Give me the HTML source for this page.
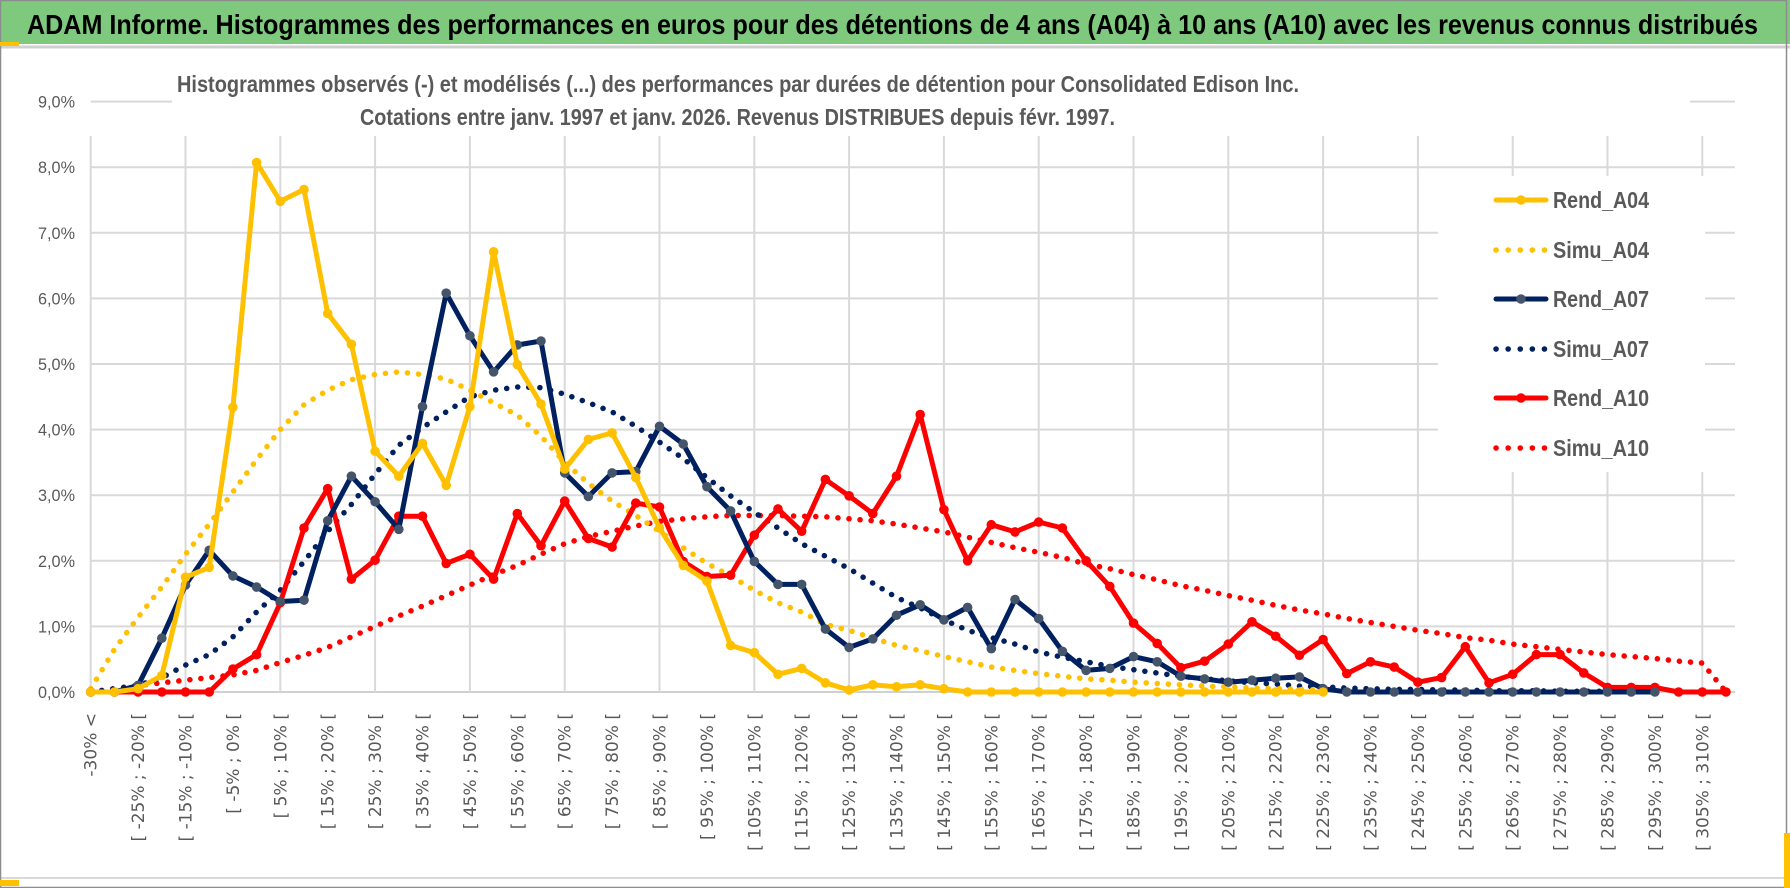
<!DOCTYPE html>
<html><head><meta charset="utf-8"><style>
html,body{margin:0;padding:0;background:#fff;}
svg{display:block;}
</style></head><body>
<svg id="chart" width="1790" height="888" viewBox="0 0 1790 888" xmlns="http://www.w3.org/2000/svg">
<rect x="0" y="0" width="1790" height="888" fill="#fff"/>
<rect x="0" y="0" width="1790" height="44" fill="#7fc97f"/>
<line x1="0" y1="47" x2="1790" y2="47" stroke="#d0d0d0" stroke-width="3"/>
<text x="27" y="34" font-family="Liberation Sans, sans-serif" font-weight="bold" font-size="28" fill="#000" textLength="1731" lengthAdjust="spacingAndGlyphs">ADAM Informe. Histogrammes des performances en euros pour des détentions de 4 ans (A04) à 10 ans (A10) avec les revenus connus distribués</text>
<line x1="0" y1="878" x2="1790" y2="878" stroke="#d9d9d9" stroke-width="2"/>
<rect x="0.5" y="0.5" width="1786" height="887" fill="none" stroke="#8c8c8c" stroke-width="1.5"/>
<rect x="0" y="42" width="19" height="4" fill="#ffc000"/>
<rect x="0" y="880" width="19" height="6" fill="#ffc000"/>
<rect x="1784" y="833" width="6" height="55" fill="#ffc000"/>
<g id="grid"></g>
<rect x="172" y="60" width="1140" height="75" fill="#fff"/>
<text x="177" y="92" font-family="Liberation Sans, sans-serif" font-weight="bold" font-size="23" fill="#595959" textLength="1122" lengthAdjust="spacingAndGlyphs">Histogrammes observés (-) et modélisés (...) des performances par durées de détention pour Consolidated Edison Inc.</text>
<text x="360" y="125" font-family="Liberation Sans, sans-serif" font-weight="bold" font-size="23" fill="#595959" textLength="755" lengthAdjust="spacingAndGlyphs">Cotations entre janv. 1997 et janv. 2026. Revenus DISTRIBUES depuis févr. 1997.</text>
<g id="yaxis"></g>
<g id="xaxis"></g>
<rect x="1438" y="176" width="267" height="296" fill="#fff"/>
<g id="series"></g>
<g id="legend"></g>
</svg>
<script>
const yTicks = [0,1,2,3,4,5,6,7,8,9];
const yTickLabels = ["0,0%","1,0%","2,0%","3,0%","4,0%","5,0%","6,0%","7,0%","8,0%","9,0%"];
const categoryCount = 70;
const rendA04 = [0,0,0.05,0.25,1.75,1.9,4.34,8.07,7.48,7.66,5.77,5.30,3.67,3.29,3.79,3.15,4.35,6.71,4.99,4.39,3.4,3.85,3.95,3.27,2.5,1.93,1.69,0.71,0.6,0.27,0.36,0.14,0.03,0.11,0.08,0.11,0.05,0,0,0,0,0,0,0,0,0,0,0,0,0,0,0,0];
const simuA04 = [0.05,0.65,1.14,1.6,2.1,2.56,3.05,3.54,4.0,4.38,4.6,4.76,4.84,4.88,4.84,4.77,4.6,4.41,4.22,3.9,3.5,3.18,2.91,2.69,2.45,2.2,1.96,1.77,1.55,1.36,1.22,1.03,0.94,0.82,0.71,0.63,0.54,0.46,0.38,0.33,0.28,0.24,0.2,0.18,0.15,0.13,0.11,0.09,0.08,0.06,0.05,0.04,0.03];
const rendA07 = [0,0,0.1,0.82,1.63,2.16,1.77,1.6,1.38,1.4,2.61,3.29,2.9,2.48,4.35,6.08,5.43,4.88,5.29,5.35,3.34,2.98,3.34,3.36,4.05,3.78,3.13,2.76,1.99,1.64,1.64,0.96,0.68,0.81,1.17,1.33,1.1,1.29,0.66,1.41,1.12,0.62,0.33,0.36,0.54,0.46,0.24,0.2,0.15,0.18,0.21,0.23,0.05,0,0,0,0,0,0,0,0,0,0,0,0,0,0];
const simuA07 = [0,0.05,0.1,0.22,0.41,0.57,0.84,1.22,1.55,1.99,2.45,2.86,3.32,3.76,4.03,4.27,4.5,4.6,4.65,4.64,4.54,4.41,4.27,4.05,3.81,3.56,3.27,2.99,2.74,2.5,2.26,2.07,1.88,1.66,1.44,1.28,1.1,0.94,0.83,0.73,0.61,0.53,0.46,0.39,0.34,0.29,0.24,0.2,0.17,0.14,0.12,0.09,0.08,0.06,0.05,0.04,0.04,0.03,0.03,0.02,0.02,0.02,0.01,0.01,0.01,0.01,0.01];
const rendA10 = [0,0,0,0,0,0,0.35,0.57,1.36,2.5,3.1,1.72,2.01,2.68,2.68,1.96,2.1,1.72,2.72,2.23,2.91,2.34,2.21,2.88,2.82,1.99,1.76,1.78,2.39,2.79,2.45,3.24,2.99,2.72,3.29,4.23,2.78,2.0,2.55,2.44,2.59,2.5,2.0,1.61,1.05,0.74,0.37,0.47,0.73,1.07,0.85,0.56,0.8,0.28,0.46,0.38,0.15,0.22,0.69,0.14,0.27,0.57,0.57,0.29,0.07,0.07,0.07,0,0,0];
const simuA10 = [0,0.05,0.1,0.14,0.18,0.22,0.26,0.33,0.45,0.56,0.68,0.84,1.0,1.16,1.31,1.47,1.63,1.79,1.93,2.1,2.26,2.37,2.45,2.53,2.6,2.64,2.67,2.69,2.69,2.69,2.68,2.67,2.64,2.61,2.56,2.5,2.44,2.36,2.28,2.2,2.13,2.05,1.95,1.88,1.79,1.71,1.62,1.55,1.47,1.4,1.32,1.25,1.19,1.12,1.06,1.0,0.94,0.89,0.83,0.79,0.73,0.69,0.65,0.61,0.57,0.54,0.51,0.47,0.44,0];
const seriesNames = ["Rend_A04","Simu_A04","Rend_A07","Simu_A07","Rend_A10","Simu_A10"];

const NS = "http://www.w3.org/2000/svg";
const X0 = 90.7, DX = 23.7, Y0 = 692, DY = 65.6, XR = 1735;
function xPos(i){ return X0 + DX*i; }
function yPos(v){ return Y0 - DY*v; }
function mk(tag, attrs, parent){
  const e = document.createElementNS(NS, tag);
  for (const k in attrs) e.setAttribute(k, attrs[k]);
  parent.appendChild(e);
  return e;
}
function catLabel(i){
  if (i === 0) return "-30% <";
  const lo = 5*(i-1) - 30;
  return "[ " + lo + "% ; " + (lo+5) + "% [";
}

const grid = document.getElementById("grid");
yTicks.forEach(function(t){
  const y = yPos(t);
  let ln;
  if (t === 9) {
    ln = mk("line", {x1:X0, x2:172, y1:y, y2:y, stroke:"#d9d9d9", "stroke-width":2}, grid);
    
    
    ln = mk("line", {x1:1690, x2:XR, y1:y, y2:y, stroke:"#d9d9d9", "stroke-width":2}, grid);
  } else {
    ln = mk("line", {x1:X0, x2:XR, y1:y, y2:y, stroke: t===0 ? "#d0d0d0" : "#d9d9d9", "stroke-width":2}, grid);
  }
  
  
});
for (let i = 0; i < categoryCount; i += 4) {
  const x = xPos(i);
  const ln = mk("line", {x1:x, x2:x, y1:136, y2:Y0, stroke:"#d9d9d9", "stroke-width":2}, grid);
  
  
}

const yaxis = document.getElementById("yaxis");
yTicks.forEach(function(t, k){
  const tx = mk("text", {x:75, y:yPos(t)+6, "text-anchor":"end", "font-family":"Liberation Sans, sans-serif", "font-size":17, fill:"#595959", textLength:37, lengthAdjust:"spacingAndGlyphs"}, yaxis);
  tx.textContent = yTickLabels[k];
  
  
});

const xaxis = document.getElementById("xaxis");
for (let i = 0; i < categoryCount; i += 2) {
  const x = xPos(i) + 6;
  const tx = mk("text", {x:0, y:0, transform:"translate(" + x + ",713) rotate(-90)", "text-anchor":"end", "font-family":"DejaVu Sans, sans-serif", "font-size":17, fill:"#595959"}, xaxis);
  tx.textContent = catLabel(i);
  
  
}

const sg = document.getElementById("series");
function drawSeries(vals, color, dotted, markerColor, name){
  const g = mk("g", {}, sg);
  
  
  const pts = vals.map(function(v, i){ return xPos(i).toFixed(1) + "," + yPos(v).toFixed(1); }).join(" ");
  const attrs = {points:pts, fill:"none", stroke:color, "stroke-linejoin":"round", "stroke-linecap":"round"};
  if (dotted) { attrs["stroke-width"] = 5.5; attrs["stroke-dasharray"] = "0.1 11"; }
  else { attrs["stroke-width"] = 5; }
  const pl = mk("polyline", attrs, g);
  
  
  if (!dotted) {
    vals.forEach(function(v, i){
      const c = mk("circle", {cx:xPos(i), cy:yPos(v), r:4.8, fill:markerColor}, g);
      
      
    });
  }
}
drawSeries(simuA10, "#ff0000", true, null, "simu-a10");
drawSeries(simuA07, "#002060", true, null, "simu-a07");
drawSeries(simuA04, "#ffc000", true, null, "simu-a04");
drawSeries(rendA10, "#ff0000", false, "#ff0000", "rend-a10");
drawSeries(rendA07, "#002060", false, "#44546a", "rend-a07");
drawSeries(rendA04, "#ffc000", false, "#ffc000", "rend-a04");

const legend = document.getElementById("legend");
const legendColors = ["#ffc000","#ffc000","#002060","#002060","#ff0000","#ff0000"];
const legendMarkers = ["#ffc000",null,"#44546a",null,"#ff0000",null];
const legendRows = [200,250,299,349,398,448];
seriesNames.forEach(function(n, k){
  const y = legendRows[k];
  const g = mk("g", {}, legend);
  
  
  if (legendMarkers[k]) {
    mk("line", {x1:1496, x2:1546, y1:y, y2:y, stroke:legendColors[k], "stroke-width":5, "stroke-linecap":"round"}, g);
    mk("circle", {cx:1521, cy:y, r:4.8, fill:legendMarkers[k]}, g);
  } else {
    mk("line", {x1:1496, x2:1546, y1:y, y2:y, stroke:legendColors[k], "stroke-width":5.5, "stroke-linecap":"round", "stroke-dasharray":"0.1 12"}, g);
  }
  const tx = mk("text", {x:1553, y:y+8, "font-family":"Liberation Sans, sans-serif", "font-weight":"bold", "font-size":23, fill:"#595959", textLength:96, lengthAdjust:"spacingAndGlyphs"}, g);
  tx.textContent = n;
  
  
});
</script>
</body></html>
